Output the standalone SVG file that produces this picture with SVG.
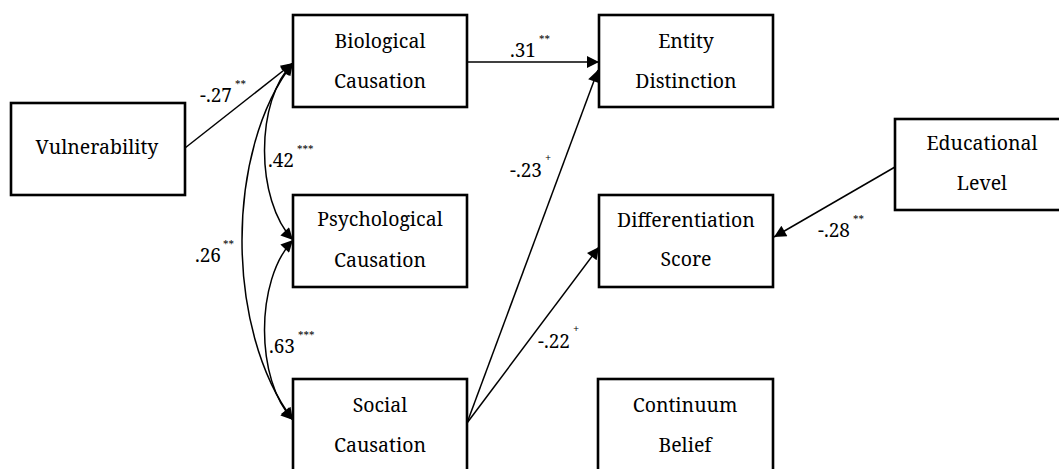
<svg xmlns="http://www.w3.org/2000/svg" width="1059" height="469" viewBox="0 0 1059 469">
<style>
.box{fill:#fff;stroke:#000;stroke-width:2.6}
.nt{font-family:'Noto Serif','DejaVu Serif',serif;font-size:19.5px;fill:#000;text-anchor:middle}
.lb{font-family:'Noto Serif','DejaVu Serif',serif;font-size:19px;fill:#000}
.sup{font-size:11px}
.ln{fill:none;stroke:#000;stroke-width:1.5}
</style>
<defs>
<marker id="ah" viewBox="0 0 10 10" refX="10" refY="5" markerWidth="16" markerHeight="12" markerUnits="userSpaceOnUse" orient="auto-start-reverse">
<path d="M0,0 L10,5 L0,10 z" fill="#000"/>
</marker>
</defs>
<rect width="1059" height="469" fill="#fff"/>
<g id="vulnerability"><rect class="box" x="11" y="103" width="174" height="92"/><text class="nt" x="97" y="154">Vulnerability</text></g>
<g id="biological"><rect class="box" x="293" y="15" width="174" height="92"/><text class="nt" x="380" y="48">Biological</text><text class="nt" x="380" y="88">Causation</text></g>
<g id="psychological"><rect class="box" x="293" y="195" width="174" height="92"/><text class="nt" x="380" y="226">Psychological</text><text class="nt" x="380" y="267">Causation</text></g>
<g id="social"><rect class="box" x="293" y="379" width="174" height="100"/><text class="nt" x="380" y="412">Social</text><text class="nt" x="380" y="452">Causation</text></g>
<g id="entity"><rect class="box" x="599" y="15" width="174" height="92"/><text class="nt" x="686" y="48">Entity</text><text class="nt" x="686" y="88">Distinction</text></g>
<g id="differentiation"><rect class="box" x="599" y="195" width="174" height="92"/><text class="nt" x="686" y="227">Differentiation</text><text class="nt" x="686" y="266">Score</text></g>
<g id="continuum"><rect class="box" x="598" y="379" width="175" height="100"/><text class="nt" x="685" y="412">Continuum</text><text class="nt" x="685" y="452">Belief</text></g>
<g id="educational"><rect class="box" x="895" y="119" width="180" height="91"/><text class="nt" x="982" y="150">Educational</text><text class="nt" x="982" y="190">Level</text></g>
<g id="connectors">
<line class="ln" x1="185" y1="148" x2="293" y2="63" marker-end="url(#ah)"/>
<line class="ln" x1="467" y1="62" x2="599" y2="62" marker-end="url(#ah)"/>
<line class="ln" x1="467" y1="423" x2="598" y2="70" marker-end="url(#ah)"/>
<line class="ln" x1="467" y1="423" x2="599" y2="247" marker-end="url(#ah)"/>
<line class="ln" x1="895" y1="167" x2="774" y2="237" marker-end="url(#ah)"/>
<path class="ln" d="M293,63 C255,100 255,200 293,240" marker-start="url(#ah)" marker-end="url(#ah)"/>
<path class="ln" d="M293,63 C225,150 225,330 293,420" marker-start="url(#ah)" marker-end="url(#ah)"/>
<path class="ln" d="M293,240 C255,280 255,380 293,420" marker-start="url(#ah)" marker-end="url(#ah)"/>
</g>
<g id="labels">
<text class="lb" x="200" y="102">-.27<tspan class="sup" dx="3" dy="-14">**</tspan></text>
<text class="lb" x="268" y="167">.42<tspan class="sup" dx="3" dy="-14">***</tspan></text>
<text class="lb" x="195" y="262">.26<tspan class="sup" dx="2" dy="-14">**</tspan></text>
<text class="lb" x="269" y="353">.63<tspan class="sup" dx="3" dy="-14">***</tspan></text>
<text class="lb" x="510" y="57">.31<tspan class="sup" dx="3" dy="-14">**</tspan></text>
<text class="lb" x="510" y="177">-.23<tspan class="sup" dx="3" dy="-15">+</tspan></text>
<text class="lb" x="538" y="348">-.22<tspan class="sup" dx="3" dy="-15">+</tspan></text>
<text class="lb" x="818" y="237">-.28<tspan class="sup" dx="3" dy="-14">**</tspan></text>
</g>
</svg>
